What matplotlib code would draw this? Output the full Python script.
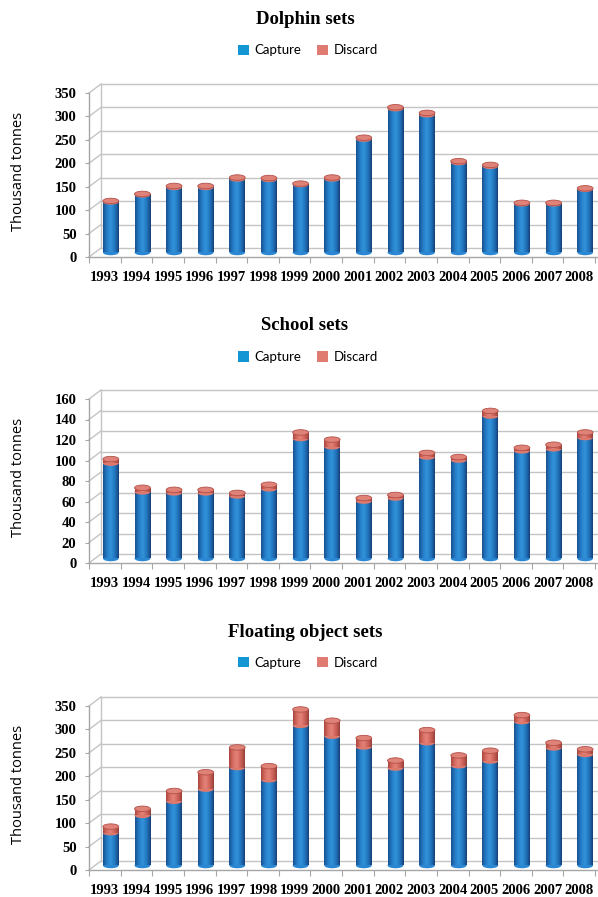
import matplotlib
matplotlib.use("Agg")
import matplotlib.pyplot as plt
import numpy as np
from matplotlib.patches import Rectangle, Ellipse, Patch
from matplotlib.colors import LinearSegmentedColormap

years = [str(y) for y in range(1993, 2009)]

# thousand tonnes per year
dolphin_capture = [108, 123, 139, 139, 157, 156, 145, 157, 242, 307, 294, 192, 184, 104, 104, 135]
dolphin_discard = [2, 2, 3, 3, 3, 3, 2, 3, 3, 3, 4, 3, 3, 2, 2, 2]

school_capture = [93, 65, 64, 64, 61, 68, 117, 109, 56, 59, 99, 96, 139, 105, 107, 118]
school_discard = [4, 4, 3, 3, 3, 4, 6, 7, 3, 3, 4, 3, 5, 3, 4, 5]

floating_capture = [70, 107, 137, 163, 209, 183, 299, 276, 253, 208, 262, 213, 223, 307, 251, 237]
floating_discard = [13, 14, 22, 36, 43, 29, 34, 33, 19, 16, 27, 22, 22, 14, 11, 11]

titles = ["Dolphin sets", "School sets", "Floating object sets"]
ymaxes = [350, 160, 350]
ysteps = [50, 20, 50]

W, H = 598, 897
fig = plt.figure(figsize=(W / 100, H / 100), dpi=100)
fig.patch.set_facecolor("white")

blue_cm = LinearSegmentedColormap.from_list(
    "cyl_blue", ["#1a4f8c", "#1f6fb8", "#2a86d0", "#3392d8", "#2580c8", "#1d66ad", "#173f74"])
red_cm = LinearSegmentedColormap.from_list(
    "cyl_red", ["#a8463e", "#cc6158", "#dd776c", "#e2837a", "#d56a60", "#bf574f", "#94403a"])
grad = np.linspace(0, 1, 64).reshape(1, -1)

grid_col = "#c4c4c4"
axis_col = "#a6a6a6"

# pixel geometry of one panel (front plane), depth offset of back wall
left_px, right_px, plot_h = 89, 595, 164
depth_x, depth_y = 12, 9
bar_w = 0.5


def cylinder(ax, xc, y0, h, width, eh, cmap, top_col, edge_col, z):
    body = Rectangle((xc - width / 2, y0), width, h, facecolor="none",
                     edgecolor="none", zorder=z)
    ax.add_patch(body)
    im = ax.imshow(grad, extent=[xc - width / 2, xc + width / 2, y0, y0 + h],
                   aspect="auto", cmap=cmap, zorder=z, interpolation="bilinear")
    im.set_clip_path(body)
    ax.add_patch(Ellipse((xc, y0), width, eh, facecolor=cmap(0.35),
                         edgecolor="none", zorder=z - 0.1))
    if top_col is not None:
        ax.add_patch(Ellipse((xc, y0 + h), width, eh, facecolor=top_col,
                             edgecolor=edge_col, lw=0.6, zorder=z + 0.2))


def panel(title, capture, discard, ymax, ystep, front0, title_y, legend_y):
    ax = fig.add_axes([left_px / W, (H - front0) / H,
                       (right_px - left_px) / W, plot_h / H])
    n = len(years)
    ax.set_xlim(0, n)
    ax.set_ylim(0, ymax)

    dx = depth_x * n / (right_px - left_px)
    dy = depth_y * ymax / plot_h
    eh = 5.5 * ymax / plot_h

    # back wall gridlines and side wall
    ticks = np.arange(0, ymax + 1, ystep)
    for t in ticks:
        ax.plot([dx, n + dx * 2], [t + dy, t + dy], color=grid_col, lw=1.0,
                zorder=1, clip_on=False)
        ax.plot([0, dx], [t, t + dy], color=grid_col, lw=1.0, zorder=1, clip_on=False)
    ax.plot([dx, dx], [dy, ymax + dy], color=grid_col, lw=1.0, zorder=1, clip_on=False)

    x = np.arange(n) + 0.5 + dx / 2
    for i in range(n):
        c, d = capture[i], discard[i]
        base = dy / 2
        cylinder(ax, x[i], base, c, bar_w, eh, blue_cm, None, None, 3)
        cylinder(ax, x[i], base + c, d, bar_w, eh, red_cm, "#df8277", "#b4504a", 3.5)

    ax.set_ylim(0, ymax)
    ax.set_xlim(0, n)

    for s in ["top", "right"]:
        ax.spines[s].set_visible(False)
    for s in ["left", "bottom"]:
        ax.spines[s].set_color(axis_col)
        ax.spines[s].set_linewidth(1.0)
    ax.spines["bottom"].set_bounds(0, n + 1)

    ax.set_yticks(ticks)
    ax.set_yticklabels([str(t) for t in ticks], family="Liberation Serif",
                       fontweight="bold", fontsize=10.5)
    ax.tick_params(axis="y", length=3, color=axis_col, pad=6)
    ax.set_xticks(np.arange(0, n + 1))
    ax.set_xticklabels([])
    ax.set_xticks(np.arange(n) + 0.5, minor=True)
    ax.set_xticklabels(years, minor=True, family="Liberation Serif",
                       fontweight="bold", fontsize=10.5)
    ax.tick_params(axis="x", which="major", length=4, color=axis_col)
    ax.tick_params(axis="x", which="minor", length=0, pad=10)
    ax.set_facecolor("none")

    fig.text(305 / W, 1 - title_y / H, title,
             ha="center", va="center", family="Liberation Serif",
             fontweight="bold", fontsize=13.5)
    fig.text(19 / W, (H - front0 + plot_h / 2 + 4) / H, "Thousand tonnes",
             rotation=90, ha="center", va="center", family="Open Sans", fontsize=10.5)
    handles = [Patch(facecolor="#1296d4", label="Capture"),
               Patch(facecolor="#e07b72", label="Discard")]
    fig.legend(handles=handles, loc="center", ncol=2, frameon=False,
               bbox_to_anchor=(308 / W, 1 - legend_y / H), prop={"family": "Lato", "size": 9.5},
               handlelength=0.85, handleheight=0.85, handletextpad=0.4, columnspacing=1.2)


panel(titles[0], dolphin_capture, dolphin_discard, ymaxes[0], ysteps[0], 257, 20, 50.5)
panel(titles[1], school_capture, school_discard, ymaxes[1], ysteps[1], 563, 326, 357)
panel(titles[2], floating_capture, floating_discard, ymaxes[2], ysteps[2], 870, 632, 662.5)

fig.savefig("out.png", dpi=100)
